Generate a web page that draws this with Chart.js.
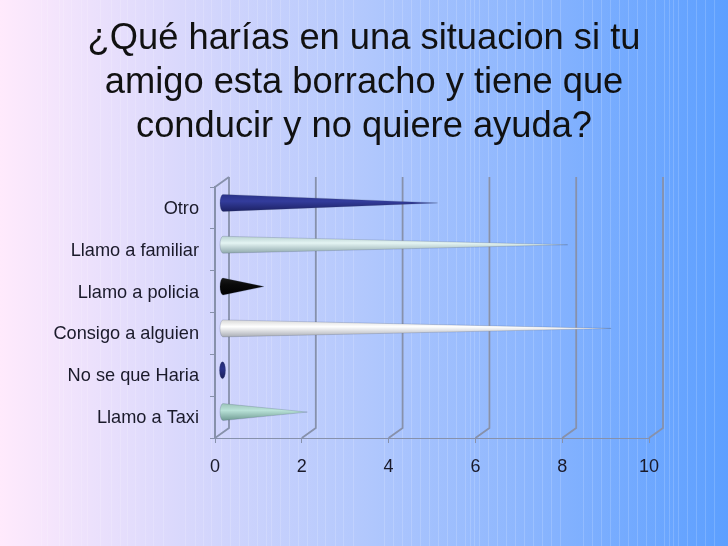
<!DOCTYPE html>
<html lang="es">
<head>
<meta charset="utf-8">
<title>Chart</title>
<script src="https://cdn.jsdelivr.net/npm/chart.js@4"></script>
<style>
  html, body { margin: 0; padding: 0; background: #b2c8fd; }
  canvas { display: block; }
</style>
</head>
<body>
<canvas id="chart" width="728" height="546"></canvas>
<script>
// --- Data ---
const categories = ['Otro', 'Llamo a familiar', 'Llamo a policia', 'Consigo a alguien', 'No se que Haria', 'Llamo a Taxi'];
const answers = [5, 8, 1, 9, 0, 2];
const titleLines = ['¿Qué harías en una situacion si tu', 'amigo esta borracho y tiene que', 'conducir y no quiere ayuda?'];

// cone shading: top, highlight, bottom
const coneColors = [
  ['#2a3288', '#333c9c', '#1c2163'],
  ['#b9d2d2', '#e4f4f3', '#8fa8ac'],
  ['#1a1a1a', '#0a0a0a', '#000000'],
  ['#d8d8d8', '#ffffff', '#a9adb5'],
  ['#232a70', '#2a3288', '#1a1f58'],
  ['#9cc4ba', '#b9e2d8', '#6f9a92']
];

// slide background stripes
const stripes = [41, 47, 59, 63, 71, 81, 87, 100, 111, 120, 127, 135, 145, 153, 163, 185, 195, 203, 211, 221,
  230, 239, 248, 257, 266, 271, 280, 289, 298, 307, 317, 325, 335, 343, 353, 384, 393, 402, 411, 420, 429,
  438, 447, 456, 465, 470, 474, 479, 488, 497, 506, 515, 524, 533, 542, 551, 560, 583, 592, 601, 610, 619,
  628, 637, 646, 655, 664, 669, 673, 678, 687, 696, 705, 714];

const axisColor = '#8791ab';
const fontFamily = '"Liberation Sans", Arial, sans-serif';
const depthX = 14;
const depthY = 10;

// --- Plugins ---
const slideBackground = {
  id: 'slideBackground',
  // title is centred on the slide, not on the padded layout box
  afterLayout(chart) {
    chart.titleBlock.left = 0;
    chart.titleBlock.right = chart.width;
  },
  beforeDraw(chart) {
    const { ctx, width, height } = chart;
    const bg = ctx.createLinearGradient(0, 0, width, 0);
    bg.addColorStop(0, '#ffeafc');
    bg.addColorStop(0.25, '#d9d8fc');
    bg.addColorStop(0.5, '#b2c8fd');
    bg.addColorStop(1, '#5c9fff');
    ctx.save();
    ctx.fillStyle = bg;
    ctx.fillRect(0, 0, width, height);
    ctx.fillStyle = 'rgba(255,255,255,0.16)';
    stripes.forEach(x => ctx.fillRect(x, 0, 1, height));
    ctx.restore();
  }
};

// back wall of the fake 3D box
const depthWalls = {
  id: 'depthWalls',
  beforeDatasetsDraw(chart) {
    const { ctx, scales, chartArea } = chart;
    ctx.save();
    ctx.strokeStyle = axisColor;
    ctx.lineWidth = 1.8;
    scales.x.ticks.forEach(t => {
      const x = scales.x.getPixelForValue(t.value);
      ctx.beginPath();
      ctx.moveTo(x, chartArea.bottom);
      ctx.lineTo(x + depthX, chartArea.bottom - depthY);
      ctx.lineTo(x + depthX, chartArea.top - depthY);
      ctx.stroke();
    });
    ctx.beginPath();
    ctx.moveTo(chartArea.left, chartArea.top);
    ctx.lineTo(chartArea.left + depthX, chartArea.top - depthY);
    ctx.stroke();
    ctx.restore();
  }
};

// bars are drawn as lying cones, tip at the value
const cones = {
  id: 'cones',
  afterDatasetsDraw(chart) {
    const { ctx } = chart;
    chart.getDatasetMeta(0).data.forEach((bar, i) => {
      const cy = bar.y - 5;
      const baseX = bar.base + 7.5;
      const tipX = bar.x + 5.5;
      const ry = 8.5;
      const rx = 3;
      const c = coneColors[i];
      const grad = ctx.createLinearGradient(0, cy - ry, 0, cy + ry);
      grad.addColorStop(0, c[0]);
      grad.addColorStop(0.4, c[1]);
      grad.addColorStop(1, c[2]);
      ctx.save();
      ctx.fillStyle = grad;
      ctx.beginPath();
      if (answers[i] > 0) {
        ctx.moveTo(baseX, cy - ry);
        ctx.lineTo(tipX, cy);
        ctx.lineTo(baseX, cy + ry);
      }
      ctx.ellipse(baseX, cy, rx, ry, 0, Math.PI / 2, Math.PI * 1.5);
      if (answers[i] === 0) ctx.ellipse(baseX, cy, rx, ry, 0, -Math.PI / 2, Math.PI / 2);
      ctx.closePath();
      ctx.fill();
      ctx.strokeStyle = 'rgba(60,70,100,0.35)';
      ctx.lineWidth = 0.6;
      ctx.stroke();
      ctx.restore();
    });
  }
};

// --- Chart ---
new Chart(document.getElementById('chart'), {
  type: 'bar',
  data: {
    labels: categories,
    datasets: [{ data: answers, backgroundColor: 'rgba(0,0,0,0)', borderWidth: 0 }]
  },
  plugins: [slideBackground, depthWalls, cones],
  options: {
    indexAxis: 'y',
    responsive: false,
    animation: false,
    layout: { padding: { left: 0, right: 79, top: 0, bottom: 0 } },
    plugins: {
      legend: { display: false },
      tooltip: { enabled: false },
      title: {
        display: true,
        text: titleLines,
        color: '#111111',
        font: { family: fontFamily, size: 36.3, weight: 'normal', lineHeight: 44 / 36.3 },
        padding: { top: 17, bottom: 38 }
      }
    },
    scales: {
      x: {
        min: 0,
        max: 10,
        afterFit(scale) { scale.height = 108; },
        ticks: {
          stepSize: 2,
          maxRotation: 0,
          padding: 13,
          color: '#1a1a2a',
          font: { family: fontFamily, size: 18 }
        },
        grid: { drawOnChartArea: false, tickLength: 5, color: axisColor },
        border: { color: axisColor, width: 1 }
      },
      y: {
        afterFit(scale) { scale.width = 215; },
        ticks: {
          padding: 11,
          labelOffset: 1,
          color: '#1a1a2a',
          font: { family: fontFamily, size: 18.2 }
        },
        grid: { drawOnChartArea: false, tickLength: 5, color: axisColor },
        border: { color: axisColor, width: 2 }
      }
    }
  }
});
</script>
</body>
</html>
